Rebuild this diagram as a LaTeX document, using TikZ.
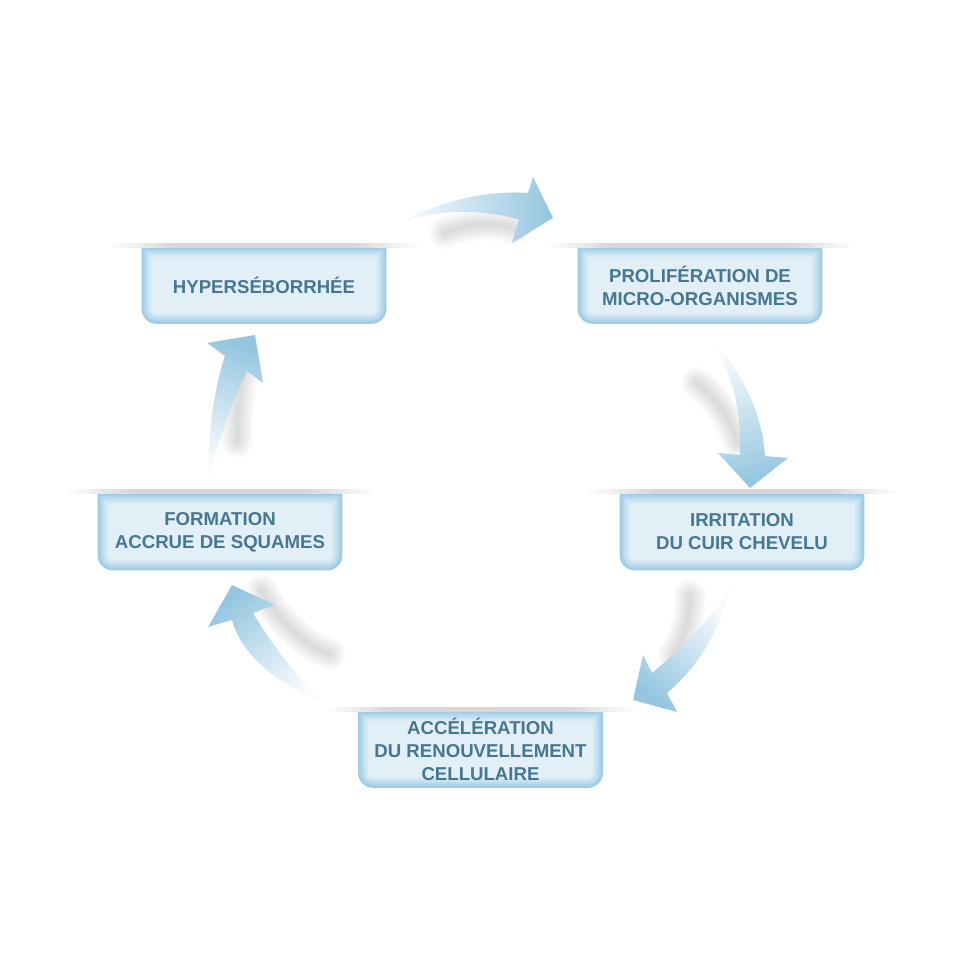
\documentclass[tikz,border=0pt]{standalone}
\usepackage{fontspec}
\setmainfont{Liberation Sans}
\usetikzlibrary{calc,backgrounds}

\definecolor{stageedge}{RGB}{154,202,228}
\definecolor{stagefill}{RGB}{229,241,248}
\definecolor{stagetext}{RGB}{70,119,145}
\definecolor{arrowblue}{RGB}{148,198,224}
\definecolor{arrowtail}{RGB}{248,251,253}
\definecolor{bandgray}{RGB}{214,214,214}

\pgfdeclarehorizontalshading{stageband}{100bp}{color(0bp)=(white); color(25bp)=(white); color(36bp)=(bandgray); color(64bp)=(bandgray); color(75bp)=(white); color(100bp)=(white)}

\tikzset{
  stage/.style={minimum width=4.88cm, minimum height=1.52cm, inner sep=0pt, align=center,
    font=\bfseries\fontsize{10.6}{13}\selectfont, text=stagetext},
  cycle arrow/.style={top color=arrowtail, bottom color=arrowblue},
  arrow shadow/.style={draw=black, opacity=0.016, line cap=round}
}

\begin{document}
\begin{tikzpicture}
\useasboundingbox (0,0) rectangle (19.24,19.24);

% Boxes
\node[stage] (hyper) at (5.28,13.53) {HYPERSÉBORRHÉE};
\node[stage] (prolif) at (14.00,13.53) {PROLIFÉRATION DE\\MICRO-ORGANISMES};
\node[stage] (irrit) at (14.84,8.60) {IRRITATION\\DU CUIR CHEVELU};
\node[stage] (accel) at (9.61,4.25) {ACCÉLÉRATION\\DU RENOUVELLEMENT\\CELLULAIRE};
\node[stage] (squam) at (4.40,8.60) {FORMATION\\ACCRUE DE SQUAMES};

% Box backgrounds: flat top, rounded bottom, inner glow
\begin{pgfonlayer}{background}
\foreach \n in {hyper,prolif,irrit,accel,squam}{
  \foreach \k in {0,...,12}{
    \pgfmathsetmacro{\stageinset}{\k*0.018}
    \pgfmathsetmacro{\stageradius}{0.3-\k*0.018}
    \pgfmathtruncatemacro{\stagemix}{100*(1-\k/13)^1.2}
    \fill[stageedge!\stagemix!stagefill] ($(\n.north west)+(\stageinset,-\stageinset)$)
      -- ($(\n.south west)+(\stageinset,0.3)$) arc[start angle=180, end angle=270, radius=\stageradius]
      -- ($(\n.south east)+(-0.3,\stageinset)$) arc[start angle=270, end angle=360, radius=\stageradius]
      -- ($(\n.north east)+(-\stageinset,-\stageinset)$) -- cycle;
  }
  % grey band on top
  \shade[shading=stageband] ($(\n.north west)+(-0.66,0)$) rectangle ($(\n.north east)+(0.66,0.08)$);
}
\end{pgfonlayer}

% Soft shadows of the arrows
\foreach \w in {1,...,9}{
  \draw[arrow shadow, line width=\w*2pt] (8.90,14.58) .. controls (9.30,14.78) and (9.90,14.80) .. (10.30,14.66);
  \draw[arrow shadow, line width=\w*2pt] (13.94,11.58) .. controls (14.30,11.30) and (14.60,10.90) .. (14.76,10.38);
  \draw[arrow shadow, line width=\w*2pt] (13.80,7.34) .. controls (13.80,6.90) and (13.70,6.50) .. (13.48,6.16);
  \draw[arrow shadow, line width=\w*2pt] (5.24,7.44) .. controls (5.45,7.00) and (5.95,6.40) .. (6.60,6.16);
  \draw[arrow shadow, line width=\w*2pt] (4.92,12.00) .. controls (4.80,11.60) and (4.74,11.00) .. (4.74,10.40);
}

% Arrows
\shade[cycle arrow, shading angle=90] (8.06,14.80) .. controls (8.80,15.24) and (9.80,15.44) .. (10.56,15.38)
  -- (10.66,15.70) -- (11.06,14.88) -- (10.24,14.38) -- (10.38,14.84)
  .. controls (9.80,15.04) and (8.80,15.08) .. (8.06,14.80) -- cycle;
\shade[cycle arrow, shading angle=14] (14.26,12.40) .. controls (14.80,11.84) and (15.24,11.04) .. (15.30,10.12)
  -- (15.76,10.08) -- (15.00,9.48) -- (14.36,10.18) -- (14.80,10.14)
  .. controls (14.84,11.04) and (14.64,11.74) .. (14.26,12.40) -- cycle;
\shade[cycle arrow, shading angle=-41] (14.60,7.50) .. controls (14.40,6.64) and (14.00,5.94) .. (13.34,5.38)
  -- (13.54,5.00) -- (12.66,5.24) -- (12.86,6.14) -- (13.04,5.78)
  .. controls (13.70,6.34) and (14.20,6.84) .. (14.60,7.50) -- cycle;
\shade[cycle arrow, shading angle=-142] (6.46,5.20) .. controls (5.50,5.56) and (4.80,6.20) .. (4.64,6.84)
  -- (4.16,6.70) -- (4.64,7.54) -- (5.50,7.14) -- (5.06,6.98)
  .. controls (5.44,6.34) and (5.96,5.68) .. (6.46,5.20) -- cycle;
\shade[cycle arrow, shading angle=162] (4.16,9.70) .. controls (4.16,10.64) and (4.30,11.54) .. (4.50,12.12)
  -- (4.14,12.38) -- (5.10,12.54) -- (5.26,11.58) -- (4.94,11.82)
  .. controls (4.70,11.34) and (4.44,10.60) .. (4.16,9.70) -- cycle;
\end{tikzpicture}
\end{document}
